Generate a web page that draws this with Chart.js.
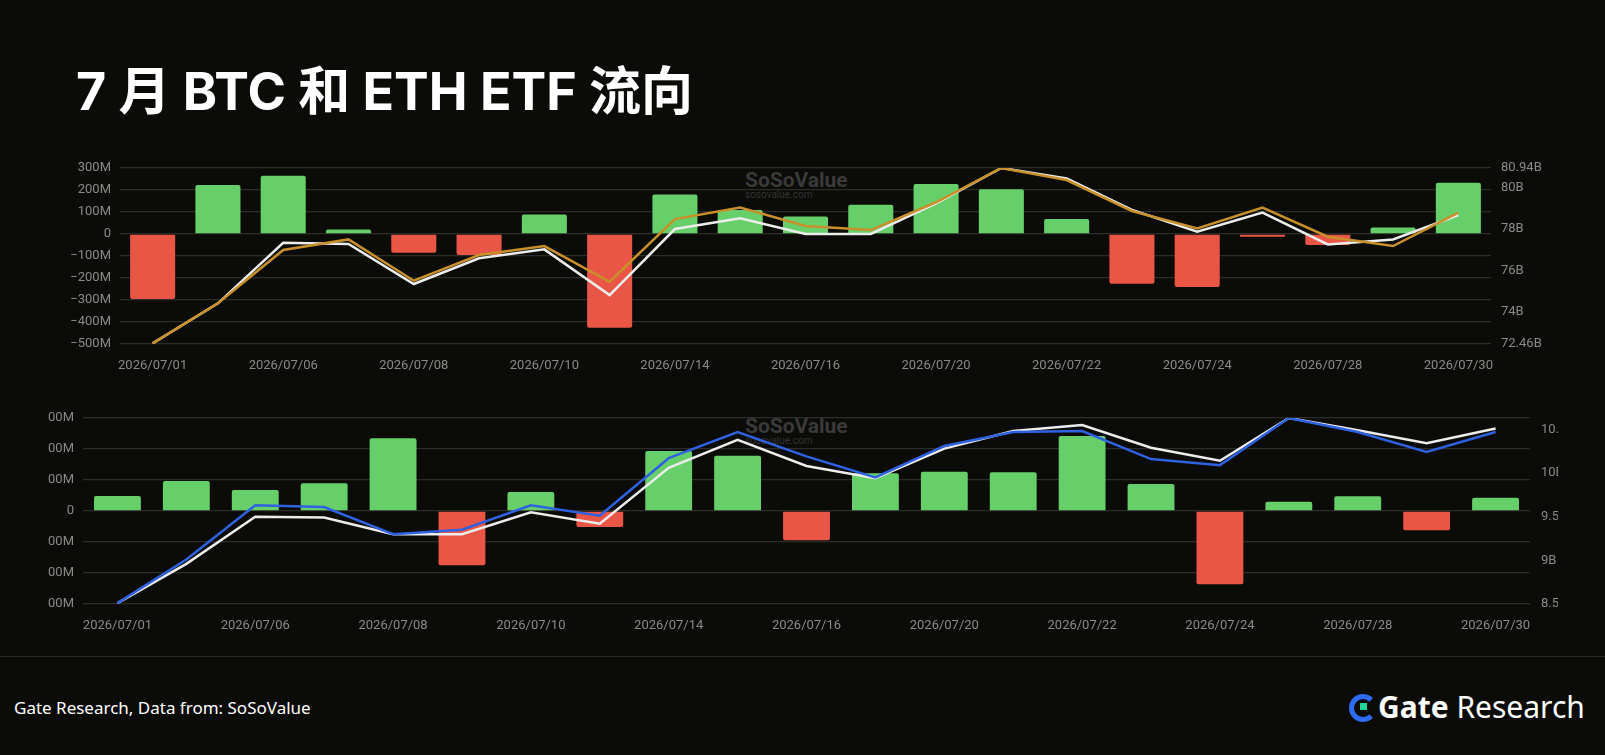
<!DOCTYPE html>
<html>
<head>
<meta charset="utf-8">
<script src="https://cdn.jsdelivr.net/npm/chart.js@4.4.1/dist/chart.umd.min.js"></script>
<style>
  html, body { margin: 0; padding: 0; background: #0b0b08; }
  body { width: 1605px; height: 755px; position: relative; overflow: hidden; font-family: "Noto Sans", Roboto, sans-serif; }
  #title { position: absolute; left: 76px; top: 50px; color: #fff; font: bold 52px Inter, "Noto Sans CJK SC", sans-serif; }
  #topWrap { position: absolute; left: 30px; top: 150px; width: 1540px; height: 224px; }
  #botClip { position: absolute; left: 48px; top: 395px; width: 1510px; height: 245px; overflow: hidden; }
  #botWrap { position: absolute; left: -28px; top: 0; width: 1560px; height: 239px; }
  .wm { position: absolute; color: #3a3a3a; font: bold 21px Roboto, sans-serif; }
  .wm small { display: block; font: 10px Roboto, sans-serif; color: #333; margin-top: -3px; }
  #sep { position: absolute; left: 0; top: 656px; width: 1605px; height: 1px; background: #262622; }
  #src { position: absolute; left: 14px; top: 696px; color: #fff; font: 17px "Noto Sans", sans-serif; }
  #logo { position: absolute; left: 1349px; top: 688px; color: #fff; font: 30px "Noto Sans", sans-serif; line-height: 38px; }
  #logo b { font-weight: 700; }
  #logoIcon { display: inline-block; width: 18px; height: 18px; border: 5px solid #2f6bf0; border-right-color: transparent; border-radius: 50%; vertical-align: -4px; margin-right: 1px; position: relative; }
  #logoIcon i { position: absolute; left: 6px; top: 4px; width: 7px; height: 7px; background: #25d39a; }
</style>
</head>
<body>
<div id="title">7 月 BTC 和 ETH ETF 流向</div>
<div class="wm" style="left:745px;top:168px;">SoSoValue<small>sosovalue.com</small></div>
<div class="wm" style="left:745px;top:414px;">SoSoValue<small>sosovalue.com</small></div>
<div id="topWrap"><canvas id="topChart"></canvas></div>
<div id="botClip"><div id="botWrap"><canvas id="botChart"></canvas></div></div>
<div id="sep"></div>
<div id="src">Gate Research, Data from: SoSoValue</div>
<div id="logo"><span id="logoIcon"><i></i></span><b>Gate</b> Research</div>
<script>
var dates = ['2026/07/01','2026/07/02','2026/07/06','2026/07/07','2026/07/08','2026/07/09','2026/07/10',
  '2026/07/13','2026/07/14','2026/07/15','2026/07/16','2026/07/17','2026/07/20','2026/07/21','2026/07/22',
  '2026/07/23','2026/07/24','2026/07/27','2026/07/28','2026/07/29','2026/07/30'];

// BTC ETF daily net flow (M USD) and lines (B USD)
var btcFlow = [-295, 223, 265, 20, -85, -95, 89, -426, 180, 109, 79, 133, 227, 203, 68, -226, -241, -12, -50, 30, 233];
var btcGold = [72.49, 74.42, 76.99, 77.50, 75.51, 76.75, 77.18, 75.46, 78.48, 79.03, 78.15, 77.95, 79.29, 80.94, 80.36, 78.87, 78.03, 79.03, 77.63, 77.18, 78.79];
var btcWhite = [72.49, 74.42, 77.34, 77.28, 75.35, 76.59, 77.02, 74.82, 78.00, 78.52, 77.76, 77.76, 79.24, 80.94, 80.44, 78.92, 77.87, 78.79, 77.26, 77.50, 78.67];
var btcLeftTicks = [-500, -400, -300, -200, -100, 0, 100, 200, 300];
var btcRightTicks = [72.46, 74, 76, 78, 80, 80.94];

// ETH ETF daily net flow (M USD) and lines (B USD)
var ethFlow = [145, 290, 203, 268, 703, -526, 184, -155, 581, 535, -284, 365, 381, 374, 726, 261, -710, 90, 142, -187, 129];
var ethBlue = [8.51, 9.01, 9.63, 9.61, 9.30, 9.35, 9.63, 9.51, 10.17, 10.47, 10.19, 9.95, 10.31, 10.47, 10.48, 10.16, 10.09, 10.63, 10.47, 10.24, 10.47];
var ethWhite = [8.51, 8.96, 9.50, 9.49, 9.30, 9.30, 9.55, 9.42, 10.06, 10.38, 10.08, 9.94, 10.28, 10.48, 10.55, 10.29, 10.14, 10.63, 10.49, 10.34, 10.51];
var ethLeftTicks = [-900, -600, -300, 0, 300, 600, 900];
var ethRightTicks = [8.5, 9, 9.5, 10, 10.5];

var GREEN = '#67cf6a', RED = '#e95646', GRID = '#2c2c2a', TICK = '#8a8a88';
var tickFont = { family: 'Roboto', size: 13 };

function barColors(arr) { return arr.map(function (v) { return v >= 0 ? GREEN : RED; }); }
function mLabel(v) { return v === 0 ? '0' : (v < 0 ? '\u2212' + Math.abs(v) : v) + 'M'; }

function makeChart(id, flow, lines, leftTicks, rightTicks, rMin, rMax, L) {
  var datasets = [{
    type: 'bar', data: flow, backgroundColor: barColors(flow), yAxisID: 'y',
    barPercentage: L.barPct, categoryPercentage: 1, borderRadius: 2, order: 3
  }];
  lines.forEach(function (ln) {
    datasets.push({
      type: 'line', data: ln.data, borderColor: ln.color, borderWidth: 2.5, pointRadius: 0,
      tension: 0, yAxisID: 'y1', order: ln.order
    });
  });
  return new Chart(document.getElementById(id), {
    data: { labels: dates, datasets: datasets },
    options: {
      responsive: true, maintainAspectRatio: false, animation: false,
      layout: { padding: { top: L.top, bottom: 0, left: 0, right: 0 } },
      plugins: { legend: { display: false }, tooltip: { enabled: false } },
      scales: {
        x: {
          grid: { display: false }, border: { display: false },
          ticks: {
            color: TICK, font: tickFont, autoSkip: false, maxRotation: 0, padding: 6,
            callback: function (v, i) { return i % 2 === 0 ? dates[i] : ''; }
          },
          afterFit: function (s) { s.height = 30; }
        },
        y: {
          position: 'left', min: leftTicks[0], max: leftTicks[leftTicks.length - 1],
          grid: { color: GRID, drawTicks: false, lineWidth: 1.3 }, border: { display: false },
          afterBuildTicks: function (s) { s.ticks = leftTicks.map(function (v) { return { value: v }; }); },
          ticks: { color: TICK, font: tickFont, padding: 9, callback: mLabel },
          afterFit: function (s) { s.width = L.leftW; }
        },
        y1: {
          position: 'right', min: rMin, max: rMax,
          grid: { display: false, drawTicks: false }, border: { display: false },
          afterBuildTicks: function (s) { s.ticks = rightTicks.map(function (v) { return { value: v }; }); },
          ticks: { color: TICK, font: tickFont, padding: L.rPad, callback: function (v) { return v + 'B'; } },
          afterFit: function (s) { s.width = L.rightW; }
        }
      }
    }
  });
}

makeChart('topChart', btcFlow,
  [{ data: btcWhite, color: '#ececec', order: 2 }, { data: btcGold, color: '#c8902a', order: 1 }],
  btcLeftTicks, btcRightTicks, 72.46, 80.94,
  { top: 18, leftW: 90, rightW: 79, rPad: 10, barPct: 0.69 });

makeChart('botChart', ethFlow,
  [{ data: ethWhite, color: '#ececec', order: 2 }, { data: ethBlue, color: '#2f62e0', order: 1 }],
  ethLeftTicks, ethRightTicks, 8.5, 10.63,
  { top: 23, leftW: 63, rightW: 50, rPad: 11, barPct: 0.68 });
</script>
</body>
</html>
